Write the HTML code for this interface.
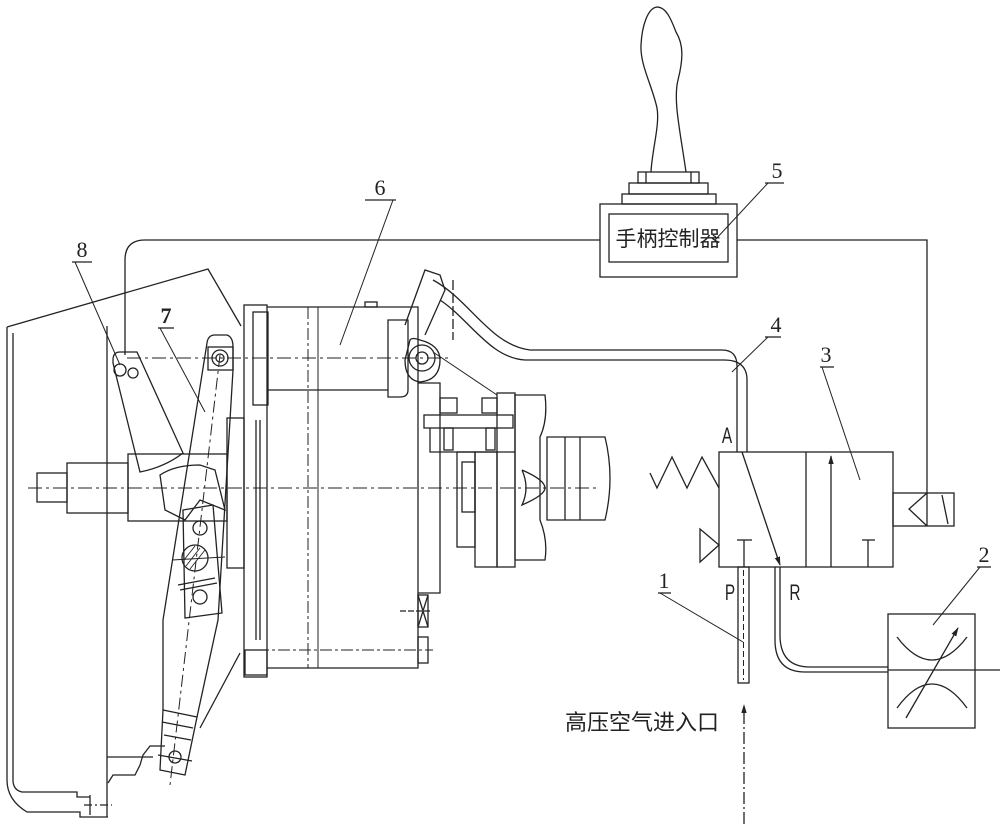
<!DOCTYPE html>
<html><head><meta charset="utf-8"><style>
html,body{margin:0;padding:0;background:#fff}
svg{display:block}
text{font-family:"Liberation Serif","Noto Serif CJK SC",serif;fill:#222}
.cn{font-family:"Liberation Sans","Noto Sans CJK SC",sans-serif}
</style></head><body>
<svg width="1000" height="824" viewBox="0 0 1000 824" xmlns="http://www.w3.org/2000/svg">
<defs>
<marker id="ah" viewBox="0 0 10 10" refX="9" refY="5" markerWidth="7" markerHeight="9" orient="auto-start-reverse"><path d="M0,2 L10,5 L0,8 z" fill="#222"/></marker>
</defs>
<g fill="none" stroke="#222" stroke-width="1.3">
<!-- handle -->
<path d="M651,172 C652,150 660,125 657,108 C652,85 640,65 641,45 C642,25 648,8 657,7 C667,7 672,22 676,32 C684,45 683,60 678,80 C673,100 680,130 686,172"/>
<rect x="638" y="172" width="61" height="11"/><line x1="646" y1="172" x2="646" y2="183"/><line x1="691" y1="172" x2="691" y2="183"/>
<rect x="629" y="183" width="79" height="11"/>
<rect x="622" y="194" width="94" height="10"/>
<rect x="600" y="204" width="137" height="73"/>
<rect x="609" y="214" width="119" height="48"/>
<!-- control wire -->
<path d="M600,240 H145 Q125,240 125,260 V355"/>
<path d="M737,240 H927 V526"/>
<!-- label 5 -->
<line x1="765" y1="183" x2="784" y2="183"/><line x1="768" y1="183" x2="715" y2="240" stroke-width="1"/>
<!-- valve 3 -->
<rect x="719" y="452" width="174" height="115"/>
<line x1="806" y1="452" x2="806" y2="567"/>
<line x1="831" y1="567" x2="831" y2="456" marker-end="url(#ah)"/>
<line x1="868" y1="540" x2="868" y2="567"/><line x1="862" y1="540" x2="875" y2="540"/>
<line x1="744" y1="540" x2="744" y2="567"/><line x1="737" y1="540" x2="752" y2="540"/>
<line x1="742" y1="452" x2="780" y2="565" marker-end="url(#ah)"/>
<polyline points="650,473 657,488 672,457 687,488 702,457 719,488"/>
<polygon points="700,529 719,545 700,562"/>
<rect x="893" y="493" width="61" height="33"/>
<polyline points="927,493 909,509 927,526"/>
<line x1="942" y1="495" x2="948" y2="524"/>
<line x1="820" y1="367" x2="834" y2="367"/><line x1="822" y1="367" x2="860" y2="480" stroke-width="1"/>
<!-- pipe 4 -->
<path d="M433,280 C470,300 490,345 530,350 H722 Q737,350 737,366 V452"/>
<path d="M440,300 C470,320 490,358 525,360 H724 Q747,360 747,380 V452"/>
<line x1="765" y1="337" x2="781" y2="337"/><line x1="768" y1="337" x2="732" y2="372" stroke-width="1"/>
<!-- pipe P / 1 -->
<rect x="738" y="567" width="11" height="116"/>
<line x1="743.5" y1="570" x2="743.5" y2="680" stroke-dasharray="6,3" stroke-width="1"/>
<line x1="744" y1="824" x2="744" y2="705" stroke-dasharray="12,3,2,3" marker-end="url(#ah)"/>
<line x1="658" y1="593" x2="671" y2="593"/><line x1="660" y1="593" x2="743" y2="642" stroke-width="1"/>
<!-- pipe R -->
<path d="M775,567 V640 Q775,672 805,672 H888"/>
<path d="M780,567 V635 Q780,667 810,667 H888"/>
<!-- throttle 2 -->
<rect x="888" y="614" width="87" height="114"/>
<line x1="888" y1="670" x2="1000" y2="670"/>
<path d="M897,637 Q932,683 967,637"/>
<path d="M897,708 Q932,660 967,708"/>
<line x1="906" y1="718" x2="958" y2="628" marker-end="url(#ah)"/>
<line x1="977" y1="567" x2="991" y2="567"/><line x1="980" y1="567" x2="933" y2="625" stroke-width="1"/>

<!-- housing -->
<path d="M7,327 L208,269 L241,326"/>
<path d="M7,327 V780 Q7,800 27,812 H80 V817 H108"/>
<path d="M13,333 V780 Q13,790 22,792 H77 V797 H90"/>
<line x1="107" y1="326" x2="107" y2="817"/>
<path d="M108,783 L113,775 H135 L140,765 L143,755 L150,746 H165"/>
<line x1="107" y1="757" x2="153" y2="757"/>
<line x1="84" y1="805" x2="112" y2="805" stroke-dasharray="8,3,2,3"/><line x1="90" y1="795" x2="90" y2="815"/>
<!-- shaft -->
<rect x="37" y="473" width="30" height="29"/>
<rect x="67" y="463" width="61" height="50"/>
<rect x="128" y="454" width="99" height="67"/>
<line x1="28" y1="488" x2="495" y2="488" stroke-dasharray="14,4,3,4" stroke-width="1"/>
<!-- lever 8 -->
<path d="M113,360 Q113,352 120,352 H137 L183,453 Q165,467 140,472 L113,363 Z"/>
<circle cx="120" cy="370" r="6"/><circle cx="133" cy="373" r="5"/>
<line x1="127" y1="358" x2="450" y2="358" stroke-dasharray="14,4,3,4" stroke-width="1"/>
<!-- lever 7 -->
<path d="M207,343 Q208,335 215,335 H227 Q233,337 233,347 V370 L218,620 L197,717"/>
<path d="M207,343 L163,620 V710"/>
<rect x="208" y="347" width="25" height="23"/>
<circle cx="220" cy="358" r="8"/><circle cx="220" cy="358" r="4"/>
<path d="M163,710 L197,717 L185,775 L160,770 Z"/>
<line x1="162" y1="722" x2="193" y2="728"/><line x1="164" y1="735" x2="191" y2="740"/>
<circle cx="175" cy="757" r="6"/>
<line x1="158" y1="755" x2="192" y2="761"/><line x1="220" y1="355" x2="170" y2="785" stroke-dasharray="12,4,3,4" stroke-width="1"/>
<line x1="240" y1="653" x2="200" y2="728"/>
<!-- cam & plate -->
<path d="M160,475 Q175,465 200,465 L215,470 L225,510 L200,500 L185,520 L165,510 Z"/>
<path d="M183,510 L213,505 L222,613 L185,618 Z"/>
<circle cx="200" cy="528" r="7"/><circle cx="200" cy="597" r="7"/>
<circle cx="195" cy="558" r="13"/>
<g stroke-width="0.9"><line x1="186" y1="566" x2="200" y2="548"/><line x1="190" y1="569" x2="205" y2="550"/><line x1="184" y1="560" x2="195" y2="546"/></g>
<line x1="178" y1="585" x2="215" y2="578"/><line x1="180" y1="590" x2="217" y2="583"/>
<line x1="172" y1="560" x2="225" y2="557" stroke-width="1"/>
<!-- flange / body -->
<rect x="244" y="305" width="23" height="372"/>
<rect x="253" y="312" width="15" height="93"/>
<rect x="227" y="418" width="17" height="150"/>
<line x1="256" y1="420" x2="256" y2="640"/><line x1="260" y1="420" x2="260" y2="640"/>
<path d="M267,307 H418 V668 H267"/>
<line x1="267" y1="390" x2="388" y2="390"/>
<path d="M388,320 H408 V390 Q408,397 400,397 H388 Z"/>
<line x1="308" y1="307" x2="308" y2="668" stroke-dasharray="12,3,3,3" stroke-width="1"/>
<line x1="318" y1="307" x2="318" y2="668" stroke-width="1"/>
<rect x="365" y="302" width="12" height="5"/>
<rect x="245" y="650" width="22" height="25"/>
<line x1="257" y1="650" x2="433" y2="650" stroke-dasharray="12,3,3,3" stroke-width="1"/>
<rect x="418" y="637" width="10" height="26"/>
<path d="M418,383 H440 V593 H418"/>
<rect x="418" y="595" width="10" height="32"/><line x1="418" y1="595" x2="428" y2="627"/><line x1="428" y1="595" x2="418" y2="627"/>
<line x1="400" y1="611" x2="432" y2="611" stroke-dasharray="6,2"/>
<!-- eye joint & fitting -->
<path d="M405,325 L425,270 L440,275 L445,290 L425,335"/>
<path d="M410,340 Q412,337 420,340 Q440,345 440,360 Q440,380 420,382 Q405,380 405,360 Z"/>
<circle cx="422" cy="358" r="13"/><circle cx="422" cy="358" r="6"/>
<line x1="433" y1="352" x2="497" y2="395" stroke-width="1"/>
<line x1="453" y1="280" x2="453" y2="340" stroke-dasharray="10,3"/>
<!-- bracket -->
<rect x="424" y="415" width="89" height="13"/>
<rect x="440" y="398" width="17" height="15"/><rect x="482" y="398" width="15" height="15"/>
<rect x="444" y="428" width="9" height="22"/><rect x="486" y="428" width="9" height="22"/>
<path d="M430,428 V452 H515"/>
<rect x="457" y="452" width="18" height="95"/>
<rect x="462" y="462" width="13" height="50"/>
<rect x="475" y="452" width="22" height="115"/>
<rect x="497" y="393" width="18" height="174"/>
<path d="M515,395 H545 Q548,420 540,437 V520 Q548,540 545,560 H515 Z"/>
<path d="M522,470 Q530,488 522,505 Q545,495 545,488 Q545,480 522,470"/>
<path d="M547,437 H605 Q615,478 605,520 H547 Z"/>
<line x1="565" y1="437" x2="565" y2="520"/><line x1="580" y1="437" x2="580" y2="520"/>
<line x1="500" y1="488" x2="600" y2="488" stroke-dasharray="14,4,3,4" stroke-width="1"/>
<!-- leaders -->
<line x1="72" y1="262" x2="92" y2="262"/><line x1="75" y1="262" x2="120" y2="365" stroke-width="1"/>
<line x1="158" y1="328" x2="174" y2="328"/><line x1="160" y1="328" x2="205" y2="412" stroke-width="1"/>
<line x1="365" y1="200" x2="396" y2="200"/><line x1="393" y1="200" x2="340" y2="345" stroke-width="1"/>
</g>
<text x="668" y="246" text-anchor="middle" font-size="21" class="cn">手柄控制器</text>
<text x="777" y="178" text-anchor="middle" font-size="22">5</text>
<text x="776" y="332" text-anchor="middle" font-size="22">4</text>
<text x="826" y="362" text-anchor="middle" font-size="22">3</text>
<text x="984" y="562" text-anchor="middle" font-size="22">2</text>
<text x="664" y="588" text-anchor="middle" font-size="22">1</text>
<text x="82" y="257" text-anchor="middle" font-size="22">8</text>
<text x="166" y="323" text-anchor="middle" font-size="22" font-weight="bold">7</text>
<text x="380" y="195" text-anchor="middle" font-size="22">6</text>
<text x="727" y="443" text-anchor="middle" font-size="22" class="cn" transform="translate(727 0) scale(0.7 1) translate(-727 0)">A</text>
<text x="730" y="600" text-anchor="middle" font-size="22" class="cn" transform="translate(730 0) scale(0.7 1) translate(-730 0)">P</text>
<text x="795" y="600" text-anchor="middle" font-size="22" class="cn" transform="translate(795 0) scale(0.7 1) translate(-795 0)">R</text>
<text x="565" y="730" font-size="22" class="cn">高压空气进入口</text>
</svg>
</body></html>
